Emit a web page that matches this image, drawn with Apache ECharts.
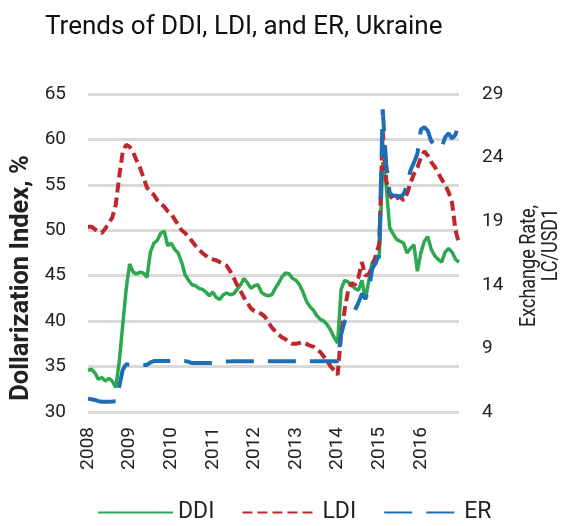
<!DOCTYPE html>
<html>
<head>
<meta charset="utf-8">
<script src="https://cdn.jsdelivr.net/npm/echarts@6/dist/echarts.min.js"></script>
<style>
html,body{margin:0;padding:0;background:#fff;}
#chart{width:570px;height:526px;}
</style>
</head>
<body>
<div id="chart"></div>
<script>
// ---- data ----
const years = [2008, 2009, 2010, 2011, 2012, 2013, 2014, 2015, 2016];
const categories = [];
years.forEach(function (y) {
  for (let m = 1; m <= 12; m++) categories.push(y + '-' + (m < 10 ? '0' : '') + m);
});

const seriesNames = ['DDI', 'LDI', 'ER'];

// Deposit dollarization index, % (left axis), monthly
const ddi = [
  34.6, 34.7, 34.3, 33.6, 33.8, 33.4, 33.7, 33.4, 32.7, 35.5, 39.5, 43.5,
  46.3, 45.4, 45.2, 45.4, 45.3, 44.8, 47.6, 48.6, 48.9, 49.7, 49.9, 48.3,
  48.6, 47.9, 47.5, 46.5, 45.1, 44.5, 44.0, 43.9, 43.6, 43.5, 43.2, 42.8,
  43.2, 42.6, 42.4, 42.9, 43.1, 42.9, 43.0, 43.5, 44.0, 44.7, 44.2, 43.6,
  43.9, 44.0, 43.2, 42.9, 42.8, 42.9, 43.6, 44.2, 44.9, 45.3, 45.2, 44.7,
  44.5, 44.0, 43.2, 42.2, 41.6, 41.2, 40.6, 40.2, 40.0, 39.6, 39.0, 38.2,
  37.6, 43.5, 44.5, 44.3, 44.0, 43.6, 43.4, 44.5, 42.4, 44.5, 46.5, 46.8,
  47.0, 57.5, 55.0, 50.3, 49.6, 49.0, 48.8, 48.6, 47.5, 48.0, 48.4, 45.5,
  47.5, 48.8, 49.3, 47.9, 47.2, 46.8, 46.5, 47.6, 48.0, 47.6, 46.8, 46.5
];

// Loan dollarization index, % (left axis), monthly
const ldi = [
  50.4, 50.4, 50.1, 49.9, 49.7, 50.2, 50.8, 51.4, 52.8, 55.9, 58.6, 59.4,
  59.2, 58.6, 57.7, 56.9, 55.8, 54.7, 54.2, 53.9, 53.3, 52.9, 52.6, 52.1,
  51.8, 51.2, 50.6, 50.0, 49.7, 49.3, 48.8, 48.3, 47.9, 47.5, 47.2, 46.9,
  46.8, 46.7, 46.5, 46.3, 46.1, 45.5, 44.8, 44.0, 43.3, 42.6, 42.0, 41.4,
  41.1, 41.0, 40.8, 40.5, 39.9, 39.3, 38.9, 38.5, 38.2, 38.0, 37.7, 37.5,
  37.5, 37.6, 37.7, 37.5, 37.3, 37.2, 36.9, 36.6, 36.1, 35.6, 35.0, 34.6,
  34.1, 38.5, 41.2, 43.3, 44.2, 44.0, 44.8, 46.5, 45.0, 45.2, 46.0, 47.2,
  48.5, 61.0, 55.5, 54.0, 53.3, 53.5, 53.7, 53.3, 54.0, 55.2, 56.2, 56.9,
  58.0, 58.7, 58.2, 57.5, 57.0, 56.3, 55.6, 55.0, 54.2, 53.0, 50.0, 48.5
];

// Exchange rate, LC per USD (right axis), monthly
const er = [
  5.05, 5.0, 4.95, 4.85, 4.8, 4.8, 4.8, 4.82, 4.85, 6.0, 7.3, 7.75,
  7.7, 7.7, 7.7, 7.7, 7.7, 7.7, 7.9, 8.0, 8.0, 8.0, 8.0, 8.0,
  8.0, 8.0, 8.0, 8.0, 8.0, 7.95, 7.85, 7.85, 7.85, 7.85, 7.85, 7.85,
  7.85, 7.9, 7.93, 7.95, 7.97, 7.98, 7.99, 7.99, 7.99, 7.99, 7.99, 7.99,
  7.99, 7.99, 7.99, 7.99, 7.99, 7.99, 7.99, 7.99, 7.99, 7.99, 7.99, 7.99,
  7.99, 7.99, 7.99, 7.99, 7.99, 7.99, 7.99, 7.99, 7.99, 7.99, 7.99, 7.99,
  7.99, 10.1, 11.1, 11.5, 11.8, 12.0, 12.6, 13.3, 12.9, 13.6, 15.3, 15.7,
  16.5, 27.8, 23.5, 21.2, 21.0, 21.0, 20.95, 21.1, 21.8, 23.0, 23.6, 24.3,
  26.2, 26.4, 26.1, 25.3, 25.0, 24.9, 24.75, 25.6, 25.9, 25.5, 25.8, 26.85
];

const titleText = 'Trends of DDI, LDI, and ER, Ukraine';
const leftAxisName = 'Dollarization Index, %';
const rightAxisName1 = 'Exchange Rate,';
const rightAxisName2 = 'LC/USD1';

// ---- chart ----
const FONT = 'Roboto';
const chart = echarts.init(document.getElementById('chart'), null, { renderer: 'canvas' });

chart.setOption({
  backgroundColor: '#ffffff',
  animation: false,
  title: {
    text: titleText,
    left: 40,
    top: 9,
    textStyle: { fontFamily: FONT, fontSize: 26, fontWeight: 'normal', color: '#111' }
  },
  grid: { left: 88, right: 111, top: 94, bottom: 114, containLabel: false },
  legend: {
    data: seriesNames,
    left: 97,
    top: 501,
    padding: 0,
    itemWidth: 75,
    itemHeight: 14,
    itemGap: 27,
    itemStyle: { opacity: 0 },
    textStyle: { fontFamily: FONT, fontSize: 23, color: '#222' }
  },
  xAxis: {
    type: 'category',
    data: categories,
    boundaryGap: false,
    axisLine: { show: false },
    axisTick: { show: false },
    splitLine: { show: false },
    axisLabel: {
      interval: function (index) { return index % 12 === 0; },
      formatter: function (v) { return v.slice(0, 4); },
      rotate: 90,
      margin: 15,
      fontFamily: FONT,
      fontSize: 19,
      color: '#222'
    }
  },
  yAxis: [
    {
      type: 'value',
      min: 30,
      max: 65,
      interval: 5,
      axisLine: { show: false },
      axisTick: { show: false },
      axisLabel: { margin: 22, fontFamily: FONT, fontSize: 19, color: '#222' },
      splitLine: { show: true, lineStyle: { color: '#D9D9D9', width: 3 } }
    },
    {
      type: 'value',
      position: 'right',
      min: 4,
      max: 29,
      interval: 5,
      axisLine: { show: false },
      axisTick: { show: false },
      axisLabel: { margin: 23, fontFamily: FONT, fontSize: 19, color: '#222' },
      splitLine: { show: false }
    }
  ],
  graphic: [
    {
      type: 'text', x: 22, y: 278, rotation: Math.PI / 2,
      style: { text: leftAxisName, font: 'bold 25.5px ' + FONT, fill: '#222', align: 'center', verticalAlign: 'middle' }
    },
    {
      type: 'text', x: 530, y: 266, rotation: Math.PI / 2, scaleY: 1.2,
      style: { text: rightAxisName1, font: '18px ' + FONT, fill: '#222', align: 'center', verticalAlign: 'middle' }
    },
    {
      type: 'text', x: 552, y: 245, rotation: Math.PI / 2, scaleY: 1.2,
      style: { text: rightAxisName2, font: '18px ' + FONT, fill: '#222', align: 'center', verticalAlign: 'middle' }
    }
  ],
  series: [
    {
      name: 'DDI', type: 'line', yAxisIndex: 0, data: ddi,
      symbol: 'none', smooth: false,
      lineStyle: { color: '#2CA84E', width: 3.5, type: 'solid' },
      itemStyle: { color: '#2CA84E' }
    },
    {
      name: 'LDI', type: 'line', yAxisIndex: 0, data: ldi,
      symbol: 'none', smooth: false,
      lineStyle: { color: '#C0272D', width: 4, type: [10, 5] },
      itemStyle: { color: '#C0272D' }
    },
    {
      name: 'ER', type: 'line', yAxisIndex: 1, data: er,
      symbol: 'none', smooth: false,
      lineStyle: { color: '#1F6DB5', width: 4, type: [28, 14] },
      itemStyle: { color: '#1F6DB5' }
    }
  ]
});
</script>
</body>
</html>
